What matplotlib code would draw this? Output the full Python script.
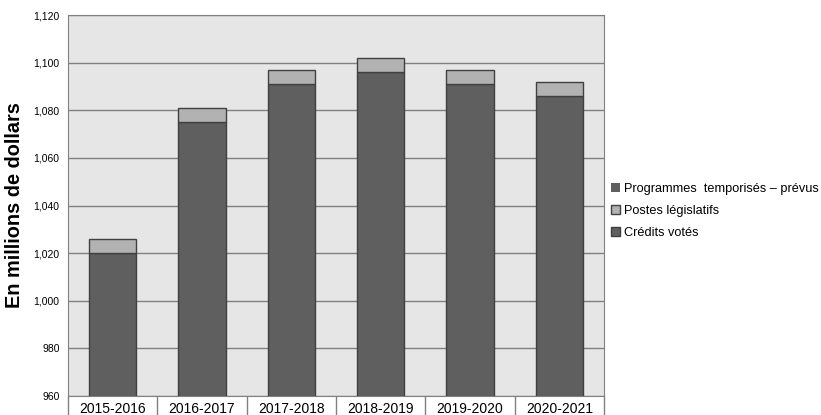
import matplotlib
matplotlib.use("Agg")
import matplotlib.pyplot as plt
import numpy as np

years = ["2015-2016", "2016-2017", "2017-2018", "2018-2019", "2019-2020", "2020-2021"]
credits_votes = [1020, 1075, 1091, 1096, 1091, 1086]
postes_legislatifs = [6, 6, 6, 6, 6, 6]
programmes_temporises = [0, 0, 0, 0, 0, 0]

plt.rcParams['font.family'] = ['Liberation Sans', 'DejaVu Sans']

fig = plt.figure(figsize=(8.21, 4.15), dpi=100)
ax = fig.add_axes([68/821, 19/415, 536/821, 381/415])
ax.set_facecolor('#e6e6e6')

x = np.arange(len(years))
w = 0.53
dark = '#5f5f5f'
light = '#b2b2b2'
edge = '#404040'

b1 = ax.bar(x, credits_votes, w, color=dark, edgecolor=edge, linewidth=1.0, zorder=3, label='Crédits votés')
bottom2 = np.array(credits_votes)
b2 = ax.bar(x, postes_legislatifs, w, bottom=bottom2, color=light, edgecolor=edge, linewidth=1.0, zorder=3, label='Postes législatifs')
bottom3 = bottom2 + np.array(postes_legislatifs)
b3 = ax.bar(x, programmes_temporises, w, bottom=bottom3, color=dark, edgecolor=edge, linewidth=0, zorder=3, label='Programmes  temporisés – prévus')

ax.set_ylim(960, 1120)
ax.set_xlim(-0.5, len(years) - 0.5)
yt = np.arange(960, 1121, 20)
ax.set_yticks(yt)
ax.set_yticklabels([f"{v:,}" for v in yt], fontsize=7.5)
ax.yaxis.grid(True, color='#808080', linewidth=1.0, zorder=1)
ax.tick_params(axis='y', length=0, pad=6)

ax.set_xticks(x)
ax.set_xticklabels(years, fontsize=10)
ax.tick_params(axis='x', length=0, pad=4)
ax.set_xticks(np.arange(-0.5, len(years), 1), minor=True)
ax.tick_params(axis='x', which='minor', length=14, direction='out', color='#808080', width=1.0)

for s in ['top', 'right', 'left', 'bottom']:
    ax.spines[s].set_color('#808080')

ax.set_ylabel('En millions de dollars', fontsize=14.3, fontweight='bold')
ax.yaxis.set_label_coords((24 - 68) / 536, 0.5)

handles = [b3, b2, b1]
labels = ['Programmes  temporisés – prévus', 'Postes législatifs', 'Crédits votés']
leg = fig.legend(handles, labels, loc='center left', bbox_to_anchor=(606/821, 1 - 211/415),
                 frameon=False, fontsize=9.2, handlelength=0.7, handleheight=0.7,
                 handletextpad=0.3, labelspacing=0.75, borderaxespad=0)

fig.savefig('out.png', dpi=100)
